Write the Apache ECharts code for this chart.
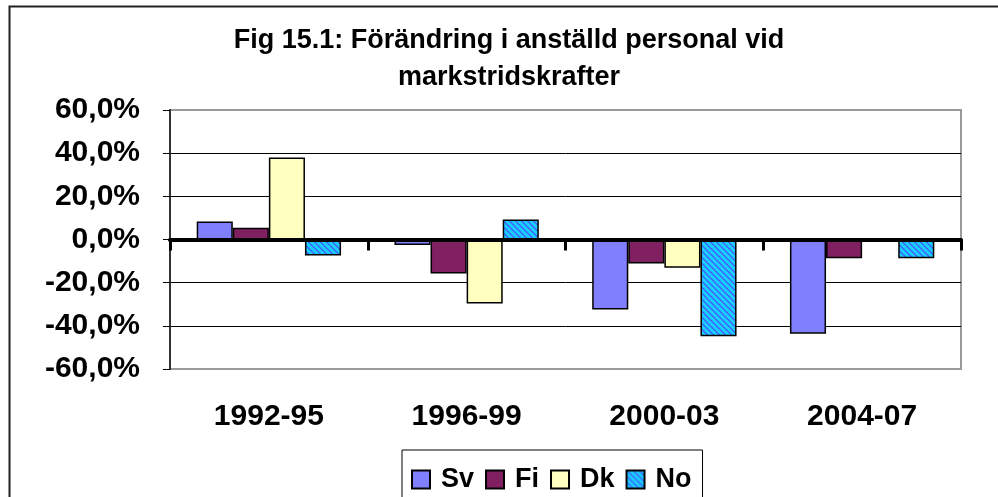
<!DOCTYPE html>
<html>
<head>
<meta charset="utf-8">
<script src="https://cdn.jsdelivr.net/npm/echarts@6/dist/echarts.min.js"></script>
<style>
html,body{margin:0;padding:0;background:#fff;}
#chart{width:998px;height:497px;}
</style>
</head>
<body>
<div id="chart"></div>
<script>
const titleText = 'Fig 15.1: Förändring i anställd personal vid\nmarkstridskrafter';
const categories = ['1992-95', '1996-99', '2000-03', '2004-07'];
const seriesNames = ['Sv', 'Fi', 'Dk', 'No'];
const sv = [8.3, -2.5, -32.4, -43.7];
const fi = [5.5, -15.7, -11.1, -8.7];
const dk = [38.0, -29.6, -13.1, null];
const no = [-7.4, 9.3, -44.8, -8.7];
const yTickLabels = ['-60,0%', '-40,0%', '-20,0%', '0,0%', '20,0%', '40,0%', '60,0%'];

const FONT = '"Liberation Sans", Arial, sans-serif';

// diagonal stripe pattern for "No"
const pc = document.createElement('canvas');
pc.width = 6; pc.height = 6;
const pctx = pc.getContext('2d');
pctx.fillStyle = '#18CCFF';
pctx.fillRect(0, 0, 6, 6);
pctx.fillStyle = '#3D6BFF';
for (let y = 0; y < 6; y++) {
  for (let x = 0; x < 6; x++) {
    const d = ((x - y) % 6 + 6) % 6;
    if (d === 0 || d === 1) pctx.fillRect(x, y, 1, 1);
  }
}
const noPattern = { image: pc, repeat: 'repeat' };

const fills = ['#8080FF', '#802060', '#FFFFC0', noPattern];
const values = [sv, fi, dk, no];

const chart = echarts.init(document.getElementById('chart'), null, { renderer: 'canvas' });
const tickVals = [-60, -40, -20, 0, 20, 40, 60];

chart.setOption({
  animation: false,
  backgroundColor: '#fff',
  textStyle: { fontFamily: FONT },
  graphic: [{
    type: 'rect', left: 7, top: 4, silent: true, z: -1,
    shape: { width: 1100, height: 700 },
    style: { fill: 'none', stroke: '#222', lineWidth: 2 }
  }],
  title: {
    text: titleText,
    left: 509, top: 22, textAlign: 'center',
    padding: 0,
    textStyle: { fontFamily: FONT, fontSize: 27, fontWeight: 'bold', color: '#000', lineHeight: 37 }
  },
  legend: {
    data: seriesNames,
    left: 402, top: 450,
    orient: 'horizontal',
    padding: [16, 11, 60, 9],
    borderColor: '#000', borderWidth: 1,
    itemWidth: 18, itemHeight: 18, itemGap: 11,
    icon: 'rect',
    textStyle: { fontFamily: FONT, fontSize: 27, fontWeight: 'bold', color: '#000', padding: [0, 0, 0, 6] }
  },
  grid: {
    left: 170, right: 37, top: 110, bottom: 128,
    show: true, borderColor: '#9a9a9a', borderWidth: 2, backgroundColor: 'transparent'
  },
  xAxis: [{
    type: 'category', data: categories, position: 'bottom',
    axisLine: { onZero: true, lineStyle: { color: '#000', width: 4 } },
    axisTick: { show: true, length: 11, lineStyle: { color: '#000', width: 3 } },
    axisLabel: { show: false },
    z: 10
  }, {
    type: 'category', data: categories, position: 'bottom',
    axisLine: { show: false, onZero: false },
    axisTick: { show: false },
    axisLabel: { show: true, margin: 33, fontFamily: FONT, fontSize: 30, fontWeight: 'bold', color: '#000' }
  }],
  yAxis: {
    type: 'value', min: -60, max: 60, interval: 20,
    axisLine: { show: true, lineStyle: { color: '#333', width: 2 } },
    axisTick: { show: true, length: 7, lineStyle: { color: '#000', width: 1 } },
    axisLabel: {
      margin: 30, fontFamily: FONT, fontSize: 30, fontWeight: 'bold', color: '#000',
      formatter: function (v) { return yTickLabels[tickVals.indexOf(v)]; }
    },
    splitLine: { show: true, lineStyle: { color: ['#9a9a9a', '#000', '#000', '#000', '#000', '#000', '#9a9a9a'], width: 1 } }
  },
  series: values.map((arr, i) => ({
    name: seriesNames[i],
    type: 'bar',
    xAxisIndex: 0,
    data: arr,
    barGap: '0%',
    barCategoryGap: '27%',
    itemStyle: { color: fills[i], borderColor: '#000', borderWidth: 1.5 }
  }))
});
</script>
</body>
</html>
